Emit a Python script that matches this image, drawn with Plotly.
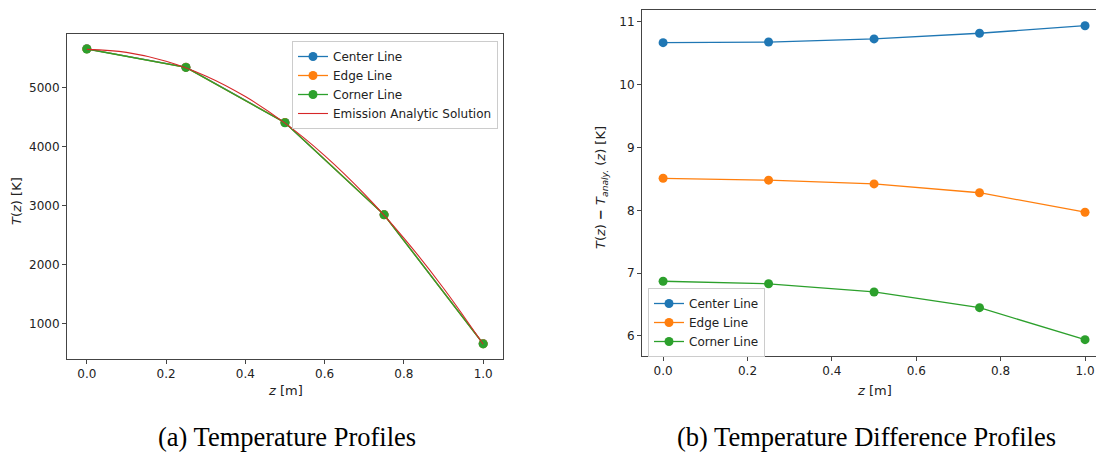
import plotly.graph_objects as go

# ---------------- data ----------------
z = [0.0, 0.25, 0.5, 0.75, 1.0]
center_T = [5660.67, 5348.18, 4410.73, 2848.32, 660.94]
edge_T = [5658.51, 5345.98, 4408.42, 2845.78, 657.97]
corner_T = [5656.87, 5344.33, 4406.70, 2843.95, 655.93]

z_analytic = [0.0, 0.1, 0.2, 0.3, 0.4, 0.5, 0.6, 0.7, 0.8, 0.9, 1.0]
T_analytic = [5650, 5600, 5450, 5200, 4850, 4400, 3850, 3200, 2450, 1600, 650]

center_diff = [10.67, 10.68, 10.73, 10.82, 10.94]
edge_diff = [8.51, 8.48, 8.42, 8.28, 7.97]
corner_diff = [6.87, 6.83, 6.70, 6.45, 5.94]

names = ["Center Line", "Edge Line", "Corner Line"]
analytic_name = "Emission Analytic Solution"
captions = ["(a) Temperature Profiles", "(b) Temperature Difference Profiles"]

colors = ["#1f77b4", "#ff7f0e", "#2ca02c"]
red = "#d62728"

W, H = 1096, 454

def px_x(x):
    return x / W

def px_y(y):
    return 1 - y / H

fig = go.Figure()

# left panel
for name, vals, c in zip(names, [center_T, edge_T, corner_T], colors):
    fig.add_trace(go.Scatter(x=z, y=vals, name=name, mode="lines+markers",
                             line=dict(color=c, width=1.3),
                             marker=dict(color=c, size=9),
                             xaxis="x", yaxis="y", legend="legend"))
fig.add_trace(go.Scatter(x=z_analytic, y=T_analytic, name=analytic_name, mode="lines",
                         line=dict(color=red, width=1.1, shape="spline"),
                         xaxis="x", yaxis="y", legend="legend"))

# right panel
for name, vals, c in zip(names, [center_diff, edge_diff, corner_diff], colors):
    fig.add_trace(go.Scatter(x=z, y=vals, name=name, mode="lines+markers",
                             line=dict(color=c, width=1.3),
                             marker=dict(color=c, size=9),
                             xaxis="x2", yaxis="y2", legend="legend2"))

axis_common = dict(showline=True, linecolor="#444444", linewidth=1,
                   ticks="outside", ticklen=4, tickwidth=1, tickcolor="#444444",
                   showgrid=False, zeroline=False,
                   tickfont=dict(family="DejaVu Sans", size=12, color="#222222"))

fig.update_layout(
    width=W, height=H,
    margin=dict(l=0, r=0, t=0, b=0),
    paper_bgcolor="white", plot_bgcolor="white",
    font=dict(family="DejaVu Sans", size=12, color="#222222"),
    xaxis=dict(domain=[px_x(67), px_x(503)], range=[-0.05, 1.05], dtick=0.2,
               tickformat=".1f", anchor="y", mirror=True, **axis_common),
    yaxis=dict(domain=[px_y(359), px_y(34)], range=[399.5, 5911.3], dtick=1000,
               tickformat="d", anchor="x", mirror=True, **axis_common),
    xaxis2=dict(domain=[px_x(642), 1.0], range=[-0.05, 1.026], dtick=0.2,
                tickformat=".1f", anchor="y2", mirror=True, **axis_common),
    yaxis2=dict(domain=[px_y(356), px_y(10)], range=[5.68, 11.19], dtick=1,
                tickformat="d", anchor="x2", mirror=False, **axis_common),
    legend=dict(x=px_x(292), y=px_y(41), xanchor="left", yanchor="top",
                bgcolor="rgba(255,255,255,0.8)", bordercolor="#cccccc", borderwidth=1,
                font=dict(family="DejaVu Sans", size=12, color="#222222"),
                tracegroupgap=0),
    legend2=dict(x=px_x(648), y=px_y(288), xanchor="left", yanchor="top",
                 bgcolor="rgba(255,255,255,0.8)", bordercolor="#cccccc", borderwidth=1,
                 font=dict(family="DejaVu Sans", size=12, color="#222222"),
                 tracegroupgap=0),
    showlegend=True,
)

lab_font = dict(family="DejaVu Sans", size=13, color="#222222")
annos = [
    dict(text="<i>T</i>(<i>z</i>)&nbsp;[K]", x=px_x(16), y=px_y(201), textangle=-90,
         font=lab_font),
    dict(text="<i>z</i> [m]", x=px_x(285.5), y=px_y(390), font=lab_font),
    dict(text="<i>T</i>(<i>z</i>)&nbsp;<b>−</b>&nbsp;<i>T</i><sub><i>analy.</i></sub>&nbsp;(<i>z</i>)&nbsp;[K]",
         x=px_x(601.5), y=px_y(187.5), textangle=-90, font=lab_font),
    dict(text="<i>z</i> [m]", x=px_x(874), y=px_y(390), font=lab_font),
    dict(text=captions[0], x=px_x(287), y=px_y(437),
         font=dict(family="Liberation Serif", size=26.5, color="#000000")),
    dict(text=captions[1], x=px_x(866), y=px_y(437),
         font=dict(family="Liberation Serif", size=26.5, color="#000000")),
]
for a in annos:
    fig.add_annotation(xref="paper", yref="paper", showarrow=False,
                       xanchor="center", yanchor="middle", **a)

fig.write_html("out.html")
